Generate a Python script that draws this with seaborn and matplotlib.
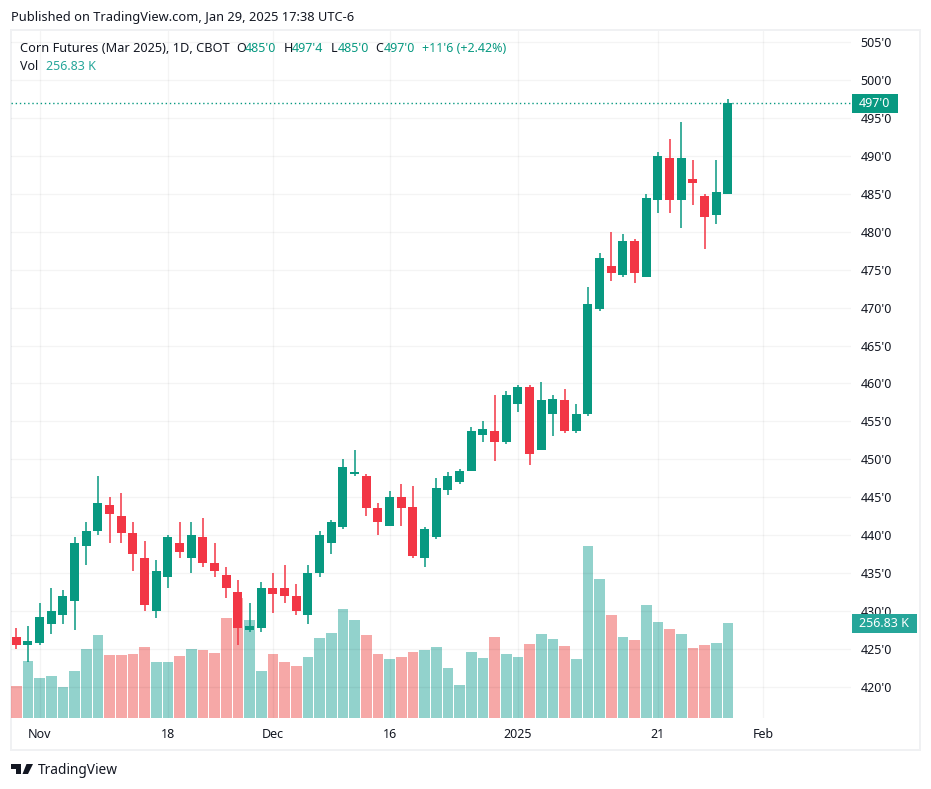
import numpy as np
import pandas as pd
import seaborn as sns
import matplotlib
matplotlib.use("Agg")
import matplotlib.pyplot as plt
from matplotlib.patches import Rectangle, Polygon

# daily candles
opens = [426.5, 425.5, 425.75, 428.25, 429.5, 431.25, 438.5, 440.5, 444, 442.5, 440.25, 437, 430, 434.5, 439, 437,
         439.75, 436.25, 434.75, 432.5, 427.5, 427.75, 433, 433, 432, 429.5, 435, 439, 441, 448, 447.75, 443.5,
         441.25, 445, 443.75, 437, 439.75, 446, 447, 448.5, 453.25, 453.75, 452.25, 457.25, 459.5, 451.25, 456,
         457.75, 453.75, 456, 469.75, 475.5, 474.25, 478.75, 474, 484.25, 489.75, 484.25, 487, 484.75, 482.25, 485]
closes = [425.5, 426, 429.25, 430, 432, 439, 440.5, 444.25, 442.75, 440.25, 437.5, 430.75, 435.25, 439.75, 437.75, 440,
          436.25, 435.25, 433, 427.75, 428, 433, 432.25, 432, 430, 435, 440, 441.75, 449, 448.25, 443.5, 441.75,
          445, 443.5, 437.25, 440.75, 446.25, 447.75, 448.5, 453.75, 454, 452.25, 458.5, 459.5, 450.75, 457.75, 458,
          453.75, 456, 470.5, 476.5, 474.5, 478.75, 474.5, 484.5, 490, 484.25, 489.75, 486.5, 482, 485.25, 497]
highs = [427.75, 428, 431, 433, 432.75, 439.75, 441.75, 447.75, 445, 445.5, 441.75, 439.25, 436.75, 440, 441.75, 441.75,
         442.25, 439, 435.75, 434, 431, 433.75, 435, 436, 433.5, 436, 440.5, 442, 450, 451.25, 448, 444.25,
         445.75, 446.75, 446.5, 441, 447.5, 448.25, 448.75, 454.25, 455, 458.5, 459, 459.75, 459.75, 460.25, 458.5,
         459.25, 457.25, 472.75, 477.25, 480, 479.75, 479, 485, 490.5, 492.25, 494.5, 489.5, 485, 489.5, 497.5]
lows = [425, 423.25, 425.5, 427, 428.25, 427.5, 436, 440, 439, 439, 435.25, 430, 429, 433, 437, 435,
        435.75, 434.5, 431.75, 425.5, 427.25, 427.25, 429.75, 431, 429.5, 428.25, 434.5, 437.5, 440.75, 447.75, 442.5, 440,
        441.25, 441.25, 437, 435.75, 439.5, 445.25, 446.75, 448.5, 452.25, 449.75, 452, 456.25, 449.25, 451.25, 453,
        453.5, 453.5, 455.75, 469.5, 473.5, 474, 473.25, 474, 482.5, 482.5, 480.5, 483.5, 477.75, 481, 485]
volumes = [86.5, 154, 108, 113.5, 84, 127, 186.5, 224.5, 170.5, 170.5, 173, 192, 151.5, 151.5, 167.5, 186.5,
           184, 175.5, 270.5, 324.5, 265, 127, 173, 151.5, 140.5, 165, 216, 230, 294.5, 265, 224.5, 173,
           159.5, 165, 178.5, 184, 192, 135, 89, 178.5, 162, 219, 173, 165, 200, 227, 213.5,
           194.5, 159.5, 465, 375.5, 278.5, 219, 211, 305.5, 259.5, 240.5, 227, 189, 197.5, 202.5, 256.83]

price_ticks = list(range(420, 510, 5))
date_ticks = [2, 13, 22, 32, 43, 55, 64]
date_labels = ["Nov", "18", "Dec", "16", "2025", "21", "Feb"]

GREEN = "#089981"
RED = "#f23645"
VOL_GREEN = "#26a69a"
VOL_RED = "#ef5350"
TEXT = "#131722"
W, H = 931, 789

sns.set_theme(style="white")
plt.rcParams["font.family"] = ["Noto Sans", "DejaVu Sans"]

df = pd.DataFrame({"open": opens, "close": closes, "high": highs, "low": lows, "volume": volumes})
df["idx"] = df.index
df["up"] = df["close"] >= df["open"]


def fx(x):
    return x / W


def fy(y):
    return 1 - y / H


fig = plt.figure(figsize=(W / 100, H / 100), dpi=100, facecolor="white")
# chart area in pixels: x 11-851, y 31-718
ax = fig.add_axes([fx(11), fy(718), (851 - 11) / W, (718 - 31) / H])
axv = ax.twinx()
ax.set_zorder(2)
axv.set_zorder(1)
ax.patch.set_visible(False)

# volume
sns.barplot(data=df, x="idx", y="volume", hue="up", palette={True: VOL_GREEN, False: VOL_RED},
            native_scale=True, dodge=False, width=0.9, alpha=0.5, saturation=1, linewidth=0,
            legend=False, ax=axv)
axv.set_ylim(0, 1857)
axv.set_yticks([])
axv.set_ylabel("")
axv.set_xlabel("")

# candles
colors = [GREEN if u else RED for u in df["up"]]
ax.vlines(df["idx"], df["low"], df["high"], colors=colors, linewidth=1.1, zorder=3)
ax.bar(df["idx"], (df["close"] - df["open"]).abs(), bottom=df[["open", "close"]].min(axis=1),
       width=0.77, color=colors, linewidth=0, zorder=4)

ax.axhline(closes[-1], color=GREEN, linewidth=1, linestyle=(0, (1, 2)), zorder=5)

ax.set_xlim(-0.454, 71.55)
ax.set_ylim(415.86, 506.49)
ax.set_yticks(price_ticks)
ax.set_yticklabels([f"{p}'0" for p in price_ticks])
ax.set_xticks(date_ticks)
ax.set_xticklabels(date_labels)
ax.yaxis.tick_right()
ax.tick_params(axis="y", length=0, pad=7, labelsize=9, labelcolor=TEXT)
ax.tick_params(axis="x", length=0, pad=7.5, labelsize=9, labelcolor=TEXT)
ax.get_xticklabels()[4].set_fontweight("bold")
ax.grid(True, color="black", alpha=0.045, linewidth=1)
ax.set_axisbelow(True)
for a in (ax, axv):
    for s in a.spines.values():
        s.set_visible(False)

# outer frame
fig.add_artist(Rectangle((fx(10.5), fy(750)), 909.5 / W, 720 / H, transform=fig.transFigure,
                         fill=False, edgecolor="#f0f1f3", linewidth=1.4))

# last value tags
for x0, x1, y0, y1, col, label in [(852, 897.5, 94, 113, GREEN, "497'0"),
                                   (852, 916.5, 614, 633, VOL_GREEN, "256.83 K")]:
    fig.add_artist(Rectangle((fx(x0), fy(y1)), (x1 - x0) / W, (y1 - y0) / H, transform=fig.transFigure,
                             facecolor=col, edgecolor="none", zorder=6))
    fig.text(fx((x0 + x1) / 2), fy((y0 + y1) / 2), label, color="white", fontsize=9, fontweight="medium",
             ha="center", va="center", zorder=7)

# header texts
fig.text(fx(11), fy(18), "Published on TradingView.com, Jan 29, 2025 17:38 UTC-6", color=TEXT, fontsize=9.25,
         ha="left", va="center")
header = [(20, "Corn Futures (Mar 2025), 1D, CBOT", TEXT, 9.2), (236.5, "O", TEXT, 9), (245, "485'0", GREEN, 9),
          (283.5, "H", TEXT, 9), (292, "497'4", GREEN, 9), (330.5, "L", TEXT, 9), (337.5, "485'0", GREEN, 9),
          (375.5, "C", TEXT, 9), (383.5, "497'0", GREEN, 9), (421.5, "+11'6 (+2.42%)", GREEN, 9)]
for x, s, col, size in header:
    fig.text(fx(x), fy(48), s, color=col, fontsize=size, ha="left", va="center")
fig.text(fx(20), fy(66.5), "Vol", color=TEXT, fontsize=9, ha="left", va="center")
fig.text(fx(46), fy(66.5), "256.83 K", color=VOL_GREEN, fontsize=9, ha="left", va="center")

# logo
tr = fig.transFigure
logo_t = [(11, 764), (21, 764), (21, 774), (16, 774), (16, 768.5), (11, 768.5)]
logo_v = [(26.5, 764), (33, 764), (28, 774), (22.5, 774)]
fig.add_artist(Polygon([(fx(x), fy(y)) for x, y in logo_t], transform=tr, facecolor=TEXT, edgecolor="none"))
fig.add_artist(Polygon([(fx(x), fy(y)) for x, y in logo_v], transform=tr, facecolor=TEXT, edgecolor="none"))
fig.text(fx(38), fy(770), "TradingView", color=TEXT, fontsize=9.85, ha="left", va="center")

fig.savefig("out.png", dpi=100)
